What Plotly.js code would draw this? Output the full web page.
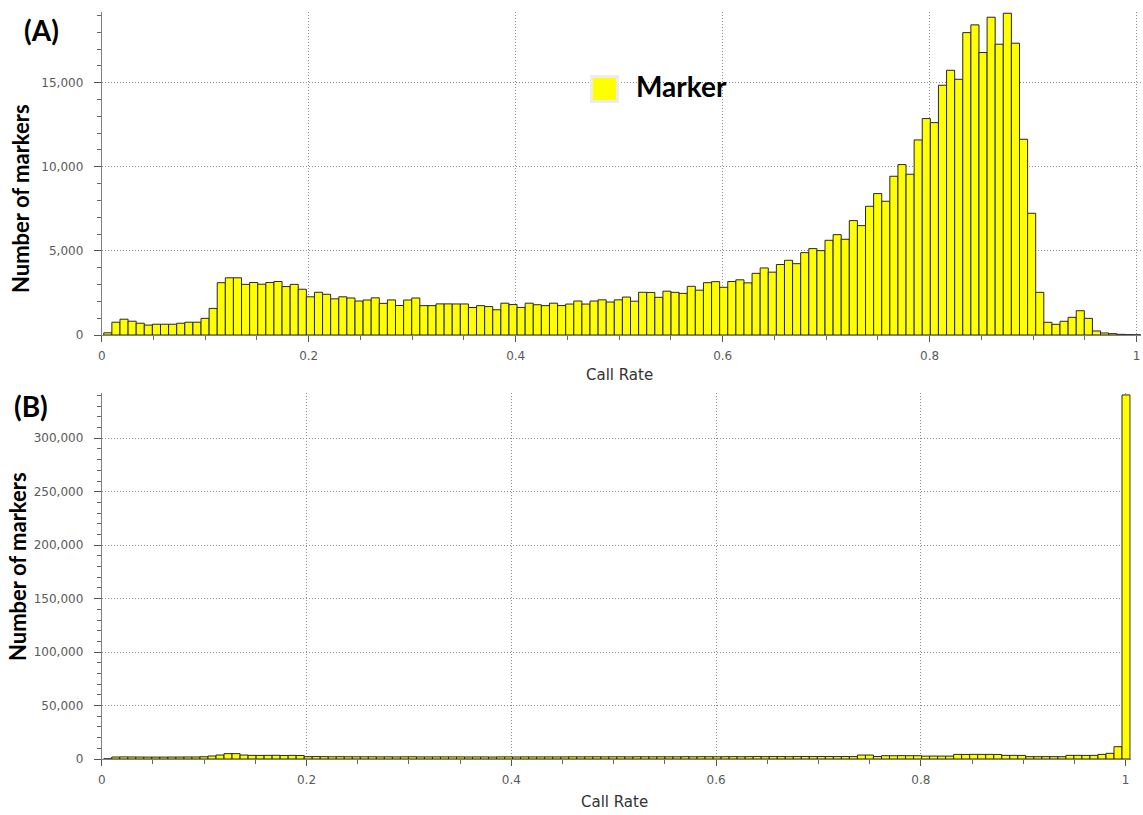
<!DOCTYPE html>
<html>
<head>
<meta charset="utf-8">
<script src="https://cdn.plot.ly/plotly-3.0.1.min.js"></script>
<style>
  html, body { margin: 0; padding: 0; background: #ffffff; }
  #chart { width: 1143px; height: 815px; }
</style>
</head>
<body>
<div id="chart"></div>
<script>
// Histogram bins of marker call rate (same bin edges in both panels)
const binStart = 0.002;
const binWidth = 0.00783;

// (A) number of markers per call-rate bin
const markersA = [
  130, 760, 940, 820, 700, 590, 640, 640, 640, 700,
  760, 760, 990, 1580, 3110, 3400, 3400, 3010, 3120, 3020,
  3120, 3180, 2880, 3010, 2720, 2270, 2540, 2420, 2150, 2270,
  2200, 2020, 2080, 2210, 1880, 2085, 1755, 2080, 2200, 1745,
  1745, 1850, 1850, 1845, 1845, 1635, 1745, 1690, 1500, 1890,
  1810, 1640, 1890, 1800, 1745, 1890, 1750, 1840, 2020, 1840,
  2020, 2090, 1960, 2090, 2255, 2010, 2540, 2530, 2240, 2605,
  2535, 2475, 2895, 2665, 3110, 3170, 2835, 3180, 3280, 3100,
  3665, 3985, 3735, 4190, 4440, 4240, 4895, 5135, 5015, 5630,
  5965, 5690, 6800, 6500, 7650, 8405, 7950, 9435, 10130, 9555,
  11595, 12865, 12625, 14845, 15735, 15200, 17975, 18435, 16790, 18890,
  17285, 19125, 17345, 11635, 7235, 2535, 755, 635, 815, 1050,
  1445, 990, 240, 120, 80, 40, 20, 10
];

// (B) number of markers per call-rate bin
const markersB = [
  150, 1850, 1950, 1900, 1850, 1800, 1800, 1800, 1850, 1850,
  1900, 1900, 2100, 2800, 3700, 5000, 5000, 3700, 3400, 3350,
  3400, 3450, 3300, 3400, 3300, 2200, 2250, 2200, 2100, 2150,
  2100, 2050, 2050, 2100, 2000, 2050, 1950, 2050, 2100, 1950,
  1950, 2000, 2000, 2000, 2000, 1900, 1950, 1950, 1850, 2000,
  2000, 1900, 2000, 1950, 1950, 2000, 1950, 2000, 2050, 2000,
  2050, 2050, 2000, 2050, 2100, 2000, 2100, 2100, 2050, 2100,
  2050, 2050, 2150, 2100, 2150, 2150, 2100, 2150, 2200, 2150,
  2200, 2250, 2200, 2250, 2250, 2200, 2250, 2300, 2250, 2300,
  2300, 2250, 2300, 2250, 3700, 3700, 2300, 3100, 3050, 3150,
  3100, 3100, 2700, 2750, 2700, 2700, 4300, 4250, 4350, 4300,
  4300, 4250, 3400, 3400, 3350, 2200, 2150, 2200, 2200, 2150,
  3400, 3400, 3350, 3400, 4300, 5300, 11500, 340500
];

const seriesName = 'Marker';
const panelLabels = ['(A)', '(B)'];
const xTitle = 'Call Rate';
const yTitle = 'Number of markers';

// page geometry helpers (pixels -> paper fractions)
const W = 1143, H = 815;
const px = v => v / W;
const py = v => 1 - v / H;

const barStyle = {
  color: '#FFFF00',
  line: { color: '#262626', width: 1 }
};

const traceA = {
  type: 'bar', name: seriesName,
  x0: binStart + binWidth / 2, dx: binWidth, width: binWidth,
  y: markersA, marker: barStyle, xaxis: 'x', yaxis: 'y',
  showlegend: false
};
const traceB = {
  type: 'bar', name: seriesName,
  x0: binStart + binWidth / 2, dx: binWidth, width: binWidth,
  y: markersB, marker: barStyle, xaxis: 'x2', yaxis: 'y2',
  showlegend: false
};

const tickFont = { family: 'DejaVu Sans', size: 12, color: '#5a5a5a' };
const gridStyle = { showgrid: true, gridcolor: '#8c8c8c', gridwidth: 1, griddash: '1px,2px' };

function xAxis(domain, range, anchor) {
  return Object.assign({
    domain: domain, range: range, anchor: anchor,
    dtick: 0.2, tick0: 0,
    showline: true, linecolor: '#808080', linewidth: 1,
    ticks: 'outside', ticklen: 6, tickcolor: '#555555', tickwidth: 1,
    minor: { dtick: 0.05, ticks: 'outside', ticklen: 4, tickcolor: '#666666', showgrid: false },
    tickfont: tickFont, ticklabelstandoff: 4,
    zeroline: false, fixedrange: true
  }, gridStyle);
}
function yAxis(domain, range, anchor, major, minor) {
  return Object.assign({
    domain: domain, range: range, anchor: anchor,
    dtick: major, tick0: 0, tickformat: ',d',
    showline: true, linecolor: '#808080', linewidth: 1,
    ticks: 'outside', ticklen: 7, tickcolor: '#555555', tickwidth: 1,
    minor: { dtick: minor, ticks: 'outside', ticklen: 4, tickcolor: '#666666', showgrid: false },
    tickfont: tickFont, ticklabelstandoff: 8,
    zeroline: false, fixedrange: true
  }, gridStyle);
}

const boldFont = (size) => ({ family: 'Lato', size: size, color: '#000000', weight: 700 });
const titleFont = { family: 'DejaVu Sans', size: 15, color: '#333333' };

const annotations = [
  { text: panelLabels[0], x: px(41), y: py(30), xref: 'paper', yref: 'paper',
    showarrow: false, font: boldFont(28), xanchor: 'center', yanchor: 'middle' },
  { text: panelLabels[1], x: px(31), y: py(406), xref: 'paper', yref: 'paper',
    showarrow: false, font: boldFont(28), xanchor: 'center', yanchor: 'middle' },
  { text: yTitle, x: px(20), y: py(199), xref: 'paper', yref: 'paper', textangle: -90,
    showarrow: false, font: boldFont(22), xanchor: 'center', yanchor: 'middle' },
  { text: yTitle, x: px(17), y: py(567), xref: 'paper', yref: 'paper', textangle: -90,
    showarrow: false, font: boldFont(22), xanchor: 'center', yanchor: 'middle' },
  { text: xTitle, x: px(619), y: py(375), xref: 'paper', yref: 'paper',
    showarrow: false, font: titleFont, xanchor: 'center', yanchor: 'middle' },
  { text: xTitle, x: px(614), y: py(802), xref: 'paper', yref: 'paper',
    showarrow: false, font: titleFont, xanchor: 'center', yanchor: 'middle' },
  { text: seriesName, x: px(634), y: py(86), xref: 'paper', yref: 'paper',
    showarrow: false, font: boldFont(28), xanchor: 'left', yanchor: 'middle' }
];

// legend swatch
const shapes = [
  { type: 'rect', xref: 'paper', yref: 'paper',
    x0: px(590), x1: px(619), y0: py(103), y1: py(75),
    fillcolor: '#ececec', line: { width: 0 } },
  { type: 'rect', xref: 'paper', yref: 'paper',
    x0: px(593), x1: px(616), y0: py(100), y1: py(78),
    fillcolor: '#FFFF00', line: { width: 0 } }
];

const layout = {
  width: W, height: H,
  margin: { l: 0, r: 0, t: 0, b: 0 },
  paper_bgcolor: '#ffffff', plot_bgcolor: '#ffffff',
  bargap: 0, showlegend: false,
  xaxis: xAxis([px(101.7), px(1140.8)], [0, 1.004], 'y'),
  yaxis: yAxis([py(335), py(12)], [0, 19200], 'x', 5000, 1000),
  xaxis2: xAxis([px(101.7), px(1130.8)], [0, 1.005], 'y2'),
  yaxis2: yAxis([py(759), py(392.7)], [0, 342600], 'x2', 50000, 10000),
  annotations: annotations,
  shapes: shapes
};

Plotly.newPlot('chart', [traceA, traceB], layout, { displayModeBar: false, staticPlot: true });
</script>
</body>
</html>
